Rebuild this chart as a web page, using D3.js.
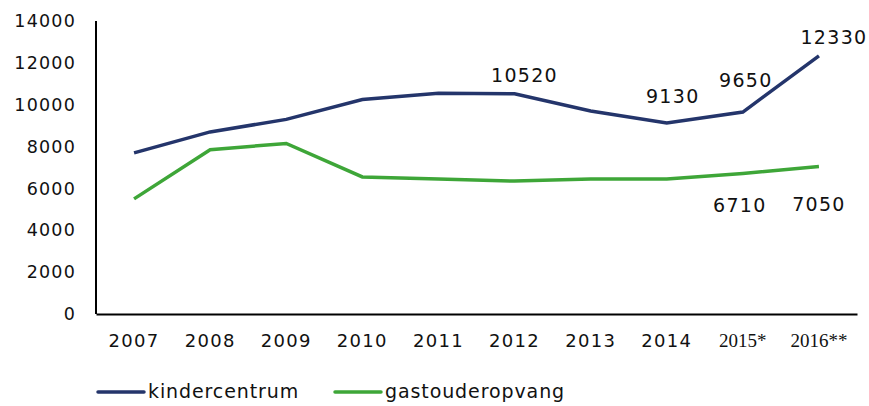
<!DOCTYPE html>
<html>
<head>
<meta charset="utf-8">
<script src="https://cdn.jsdelivr.net/npm/d3@7"></script>
<style>
  body { margin: 0; background: #fff; }
  text { font-family: "DejaVu Sans", sans-serif; fill: #111; }
</style>
</head>
<body>
<div id="chart"></div>
<script>
// Data
const years = ["2007", "2008", "2009", "2010", "2011", "2012", "2013", "2014", "2015*", "2016**"];
const kindercentrum = [7700, 8700, 9300, 10250, 10550, 10520, 9700, 9130, 9650, 12330];
const gastouderopvang = [5500, 7850, 8150, 6550, 6450, 6350, 6450, 6450, 6710, 7050];
const yTicks = [0, 2000, 4000, 6000, 8000, 10000, 12000, 14000];

// Labels shown on the chart: [index, dx, dy]
const kcLabels = [[5, 10, -17], [7, 6, -25], [8, 3, -31], [9, 15, -17]];
const goLabels = [[8, -3, 33], [9, 0, 39]];

const W = 869, H = 406;
const margin = { top: 21, right: 12, bottom: 92, left: 96 },
    width = W - margin.left - margin.right,
    height = H - margin.top - margin.bottom;

const svg = d3.select("#chart")
    .append("svg")
    .attr("width", W)
    .attr("height", H);

const g = svg.append("g")
    .attr("transform", "translate(" + margin.left + "," + margin.top + ")");

const x = d3.scaleBand()
    .domain(years)
    .range([0, width]);

const y = d3.scaleLinear()
    .domain([0, 14000])
    .range([height, 0]);

// Y axis: labels only plus plain axis line
const yAxis = g.append("g")
    .call(d3.axisLeft(y).tickValues(yTicks).tickFormat(d3.format("d")).tickSize(0).tickPadding(20));
yAxis.select(".domain").remove();
yAxis.selectAll("text")
    .style("font-size", "17.5px")
    .style("letter-spacing", "1.2px")
    .style("font-family", "\"DejaVu Sans\", sans-serif");

g.append("line")
    .attr("x1", 0).attr("x2", 0)
    .attr("y1", y(14000)).attr("y2", y(0))
    .attr("stroke", "#000").attr("stroke-width", 2);

// X axis
const xAxis = g.append("g")
    .attr("transform", "translate(0," + height + ")")
    .call(d3.axisBottom(x).tickSize(0).tickPadding(20));
xAxis.select(".domain")
    .attr("stroke", "#000").attr("stroke-width", 2);
xAxis.selectAll("text")
    .style("font-size", d => d.includes("*") ? "19px" : "18px")
    .style("font-family", d => d.includes("*") ? "\"Liberation Serif\", serif" : "\"DejaVu Sans\", sans-serif")
    .style("letter-spacing", d => d.includes("*") ? "0px" : "1.3px");

const line = d3.line()
    .x((d, i) => x(years[i]) + x.bandwidth() / 2)
    .y(d => y(d));

g.append("path")
    .datum(kindercentrum)
    .attr("fill", "none")
    .attr("stroke", "#24356b")
    .attr("stroke-width", 3.5)
    .attr("d", line);

g.append("path")
    .datum(gastouderopvang)
    .attr("fill", "none")
    .attr("stroke", "#3ea638")
    .attr("stroke-width", 3.5)
    .attr("d", line);

function addLabels(values, labels) {
    g.selectAll(null)
        .data(labels)
        .enter()
        .append("text")
        .attr("x", d => x(years[d[0]]) + x.bandwidth() / 2 + d[1])
        .attr("y", d => y(values[d[0]]) + d[2])
        .attr("text-anchor", "middle")
        .attr("dominant-baseline", "middle")
        .style("font-size", "19px")
        .style("letter-spacing", "1.3px")
        .text(d => values[d[0]]);
}
addLabels(kindercentrum, kcLabels);
addLabels(gastouderopvang, goLabels);

// Legend
const legend = svg.append("g").attr("transform", "translate(98,392)");
const items = [["kindercentrum", "#24356b", 0], ["gastouderopvang", "#3ea638", 237]];
items.forEach(([name, color, off]) => {
    legend.append("line")
        .attr("x1", off).attr("x2", off + 46)
        .attr("stroke", color).attr("stroke-width", 3.5)
        .attr("stroke-linecap", "round");
    legend.append("text")
        .attr("x", off + 50)
        .attr("dominant-baseline", "middle")
        .style("font-size", "19px")
        .style("letter-spacing", "0.9px")
        .text(name);
});
</script>
</body>
</html>
